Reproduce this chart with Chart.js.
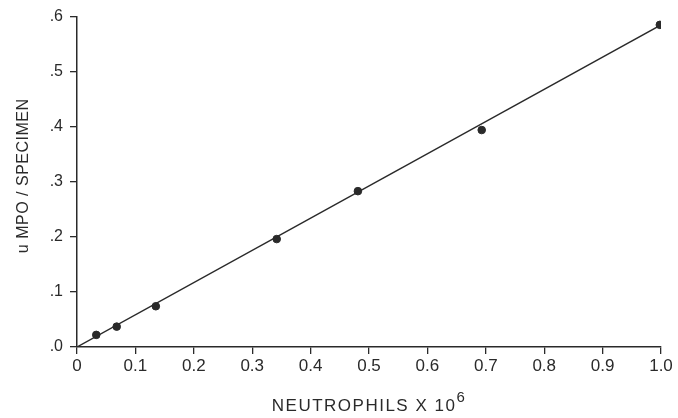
<!DOCTYPE html>
<html><head><meta charset="utf-8">
<script src="https://cdn.jsdelivr.net/npm/chart.js@4.4.0/dist/chart.umd.min.js"></script>
<style>html,body{margin:0;padding:0;background:#fff}#wrap{width:678px;height:418px}</style>
</head><body><div id="wrap"><canvas id="c" width="678" height="418"></canvas></div>
<script>
const neutrophils = [0.033, 0.068, 0.135, 0.342, 0.481, 0.693, 0.998];
const mpo = [0.022, 0.037, 0.074, 0.196, 0.283, 0.394, 0.585];
const fitX = [0, 1.0];
const fitY = [0, 0.585];
const xTicks = [0,0.1,0.2,0.3,0.4,0.5,0.6,0.7,0.8,0.9,1.0];
const xTickLabels = ['0','0.1','0.2','0.3','0.4','0.5','0.6','0.7','0.8','0.9','1.0'];
const yTicks = [0,0.1,0.2,0.3,0.4,0.5,0.6];
const yTickLabels = ['.0','.1','.2','.3','.4','.5','.6'];
const xTitle = 'NEUTROPHILS X 10';
const xTitleSup = '6';
const yTitle = 'u MPO / SPECIMEN';

const ink = '#2a2a2a';
const font = '"Liberation Sans", Arial, sans-serif';

const titles = {
  id: 'titles',
  afterDraw(chart) {
    const ctx = chart.ctx, a = chart.chartArea;
    ctx.save();
    ctx.fillStyle = ink;
    ctx.textBaseline = 'alphabetic';
    ctx.letterSpacing = '1.5px';
    ctx.font = '17px ' + font;
    const w1 = ctx.measureText(xTitle).width;
    ctx.font = '15px ' + font;
    const w2 = ctx.measureText(xTitleSup).width;
    const cx = (a.left + a.right) / 2;
    const x0 = cx - (w1 + w2) / 2;
    ctx.font = '17px ' + font;
    ctx.textAlign = 'left';
    ctx.fillText(xTitle, x0, 411);
    ctx.font = '15px ' + font;
    ctx.fillText(xTitleSup, x0 + w1, 402);
    ctx.letterSpacing = '0.5px';
    ctx.translate(28, (a.top + a.bottom) / 2 - 6);
    ctx.rotate(-Math.PI / 2);
    ctx.textAlign = 'center';
    ctx.font = '16px ' + font;
    ctx.fillText(yTitle, 0, 0);
    ctx.restore();
  }
};

new Chart(document.getElementById('c'), {
  type: 'scatter',
  data: {
    datasets: [
      { type: 'line', data: fitX.map((x, i) => ({x, y: fitY[i]})), borderColor: ink, borderWidth: 1.4, pointRadius: 0, fill: false },
      { data: neutrophils.map((x, i) => ({x, y: mpo[i]})), backgroundColor: ink, borderColor: ink, pointRadius: 3.8, pointHoverRadius: 3.8 }
    ]
  },
  options: {
    responsive: false, animation: false,
    layout: { padding: { top: 16, right: 17, left: 0, bottom: 0 } },
    plugins: { legend: { display: false }, tooltip: { enabled: false } },
    scales: {
      x: {
        type: 'linear', min: 0, max: 1.0,
        afterBuildTicks: s => { s.ticks = xTicks.map(v => ({value: v})); },
        afterFit: s => { s.height = 71; },
        grid: { display: true, drawOnChartArea: false, drawTicks: true, tickLength: 7, color: ink, lineWidth: 1.3 },
        border: { display: true, color: ink, width: 1.5 },
        ticks: { color: ink, font: { family: font, size: 17 }, padding: 2, maxRotation: 0, autoSkip: false,
          callback: (v, i) => xTickLabels[i] }
      },
      y: {
        type: 'linear', min: 0, max: 0.6,
        afterBuildTicks: s => { s.ticks = yTicks.map(v => ({value: v})); },
        afterFit: s => { s.width = 77; },
        grid: { display: true, drawOnChartArea: false, drawTicks: true, tickLength: 7, color: ink, lineWidth: 1.3 },
        border: { display: true, color: ink, width: 1.5 },
        ticks: { color: ink, font: { family: font, size: 16 }, padding: 7, autoSkip: false,
          callback: (v, i) => yTickLabels[i] }
      }
    }
  },
  plugins: [titles]
});
</script></body></html>
